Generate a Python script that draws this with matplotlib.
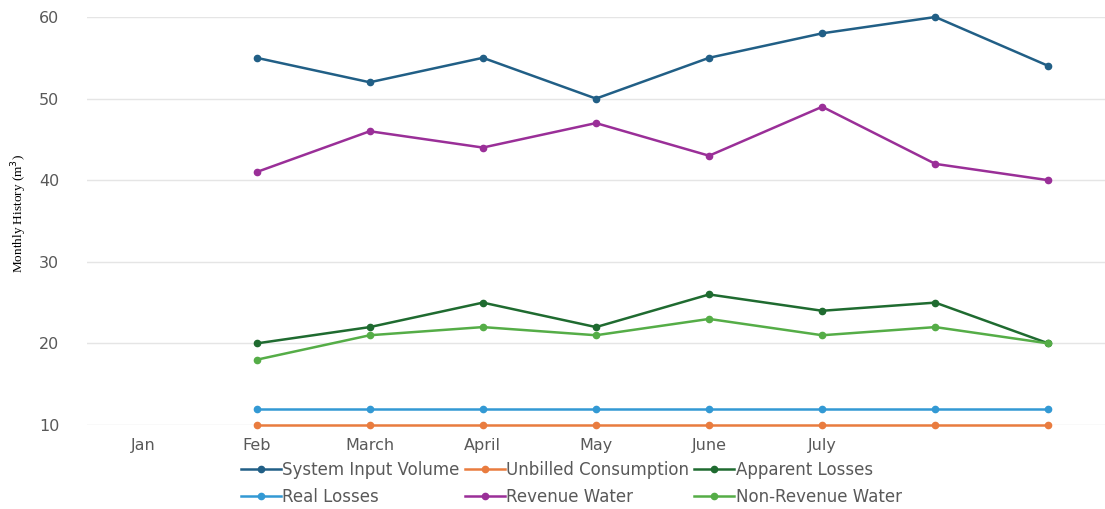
import matplotlib.pyplot as plt

months = ['Jan', 'Feb', 'March', 'April', 'May', 'June', 'July', '', '']
x_data = [1, 2, 3, 4, 5, 6, 7, 8]  # data starts at Feb

system_input = [55, 52, 55, 50, 55, 58, 60, 54]
unbilled = [10, 10, 10, 10, 10, 10, 10, 10]
apparent = [20, 22, 25, 22, 26, 24, 25, 20]
real_losses = [12, 12, 12, 12, 12, 12, 12, 12]
revenue = [41, 46, 44, 47, 43, 49, 42, 40]
non_revenue = [18, 21, 22, 21, 23, 21, 22, 20]

series = [
    ('System Input Volume', system_input, '#215f86'),
    ('Unbilled Consumption', unbilled, '#e97c3f'),
    ('Apparent Losses', apparent, '#1f6b30'),
    ('Real Losses', real_losses, '#3399d4'),
    ('Revenue Water', revenue, '#9a2f98'),
    ('Non-Revenue Water', non_revenue, '#55ad47'),
]

plt.rcParams['font.family'] = 'DejaVu Sans'

fig = plt.figure(figsize=(11.05, 5.09), dpi=100)
ax = fig.add_axes([0.0787, 0.165, 0.9213, 0.8016])

handles = {}
for name, vals, col in series:
    h, = ax.plot(x_data, vals, color=col, lw=1.8, marker='o', ms=4.5,
                 label=name, clip_on=False)
    handles[name] = h

ax.set_xlim(-0.5, 8.5)
ax.set_ylim(10, 60)
ax.set_yticks([10, 20, 30, 40, 50, 60])
ax.set_xticks(range(len(months)))
ax.set_xticklabels(months)
ax.grid(axis='y', color='#e5e5e5', lw=1)
ax.set_axisbelow(True)
for s in ax.spines.values():
    s.set_visible(False)
ax.tick_params(length=0, labelsize=11.5, colors='#595959')
ax.tick_params(axis='y', pad=20)
ax.tick_params(axis='x', pad=9)

fig.text(0.017, 0.58, 'Monthly History (m$^3$)', family='Liberation Serif',
         fontsize=9.5, rotation=90, ha='center', va='center')

# row-wise legend order for ncol=3
order = ['System Input Volume', 'Real Losses', 'Unbilled Consumption',
         'Revenue Water', 'Apparent Losses', 'Non-Revenue Water']
leg = fig.legend([handles[n] for n in order], order, ncol=3, loc='center',
                 bbox_to_anchor=(0.517, 0.05), frameon=False, fontsize=12,
                 handlelength=2.4, handletextpad=0.1, columnspacing=0.3,
                 labelspacing=0.55, labelcolor='#595959')

fig.savefig('out.png', dpi=100)
